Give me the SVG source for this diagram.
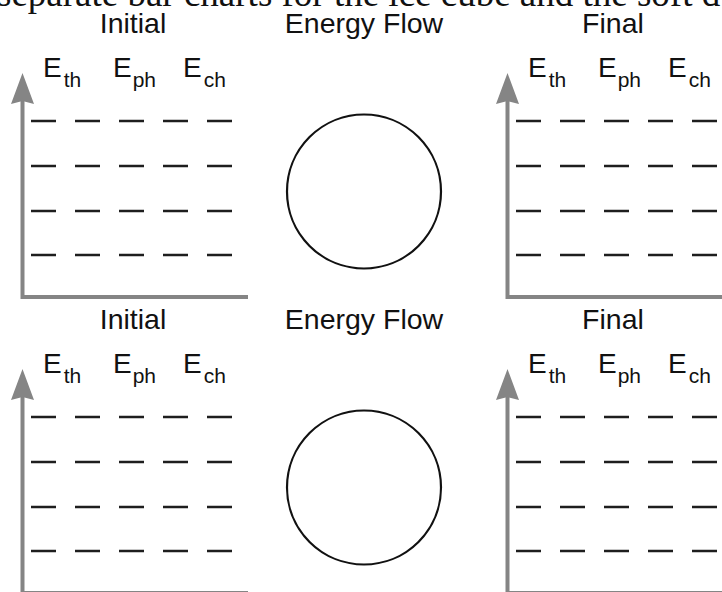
<svg xmlns="http://www.w3.org/2000/svg" width="722" height="592" viewBox="0 0 722 592">
<style>
.cap{font-family:"Liberation Serif","Times New Roman",serif;font-size:37px;fill:#111}
.title{font-family:"Liberation Sans",Arial,sans-serif;font-size:28.5px;fill:#111;text-anchor:middle}
.e{font-family:"Liberation Sans",Arial,sans-serif;font-size:28px;fill:#111}
.sub{font-size:21px}
.axis{stroke:#858585;stroke-width:4;fill:none}
.head{fill:#858585}
.dash{stroke:#1e1e1e;stroke-width:2.6;stroke-dasharray:25 19;fill:none}
.circ{fill:#fff;stroke:#111;stroke-width:2.2}
</style>
<defs>
<g id="chart">
<path class="axis" d="M22.5,100 V297 H248"/>
<polygon class="head" points="22.5,73 34,104 22.5,101 11,104"/>
<path class="dash" d="M31,121 H250 M31,166 H250 M31,211 H250 M31,255 H250"/>
<text class="e" x="43" y="77">E<tspan class="sub" dx="2" dy="10">th</tspan></text>
<text class="e" x="113" y="77">E<tspan class="sub" dx="1" dy="10">ph</tspan></text>
<text class="e" x="183" y="77">E<tspan class="sub" dx="2" dy="10">ch</tspan></text>
</g>
</defs>
<text class="cap" x="-3" y="6">separate bar charts for the ice cube and the soft d</text>
<g id="initial-top">
<text class="title" x="133" y="33">Initial</text>
<use href="#chart"/>
</g>
<g id="flow-top">
<text class="title" x="364" y="33">Energy Flow</text>
<circle class="circ" cx="364" cy="191.5" r="77"/>
</g>
<g id="final-top">
<text class="title" x="613" y="33">Final</text>
<use href="#chart" transform="translate(485,0)"/>
</g>
<g id="initial-bottom">
<text class="title" x="133" y="329">Initial</text>
<use href="#chart" transform="translate(0,296)"/>
</g>
<g id="flow-bottom">
<text class="title" x="364" y="329">Energy Flow</text>
<circle class="circ" cx="364" cy="487.5" r="77"/>
</g>
<g id="final-bottom">
<text class="title" x="613" y="329">Final</text>
<use href="#chart" transform="translate(485,296)"/>
</g>
<g id="connectors"></g>
</svg>
